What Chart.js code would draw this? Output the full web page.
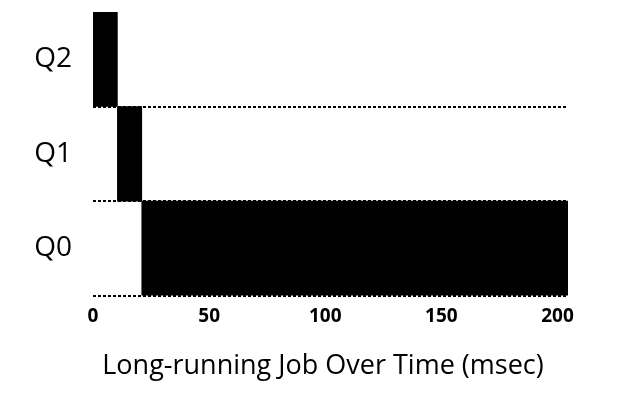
<!DOCTYPE html>
<html>
<head>
<meta charset="utf-8">
<script src="https://cdn.jsdelivr.net/npm/chart.js@4/dist/chart.umd.min.js"></script>
<style>
html,body{margin:0;padding:0;background:#fff;}
canvas{display:block;}
</style>
</head>
<body>
<canvas id="c" width="632" height="407"></canvas>
<script>
const categories = ['Q2', 'Q1', 'Q0'];
const startTimes = [0, 10.5, 21];
const endTimes = [10.5, 21, 204.5];
const xTickValues = [0, 50, 100, 150, 200];
const xAxisTitle = 'Long-running Job Over Time (msec)';

const FONT = "'Open Sans', 'DejaVu Sans', sans-serif";

new Chart(document.getElementById('c'), {
  type: 'bar',
  data: {
    labels: categories,
    datasets: [{
      data: categories.map((c, i) => [startTimes[i], endTimes[i]]),
      backgroundColor: '#000',
      borderWidth: 0,
      borderSkipped: false,
      barPercentage: 1,
      categoryPercentage: 1
    }]
  },
  options: {
    indexAxis: 'y',
    responsive: false,
    animation: false,
    devicePixelRatio: 1,
    layout: { padding: { top: 12, right: 0, left: 14, bottom: 0 } },
    plugins: {
      legend: { display: false },
      tooltip: { enabled: false },
      title: {
        display: true,
        position: 'bottom',
        text: xAxisTitle,
        color: '#000',
        font: { family: FONT, size: 27, weight: 'normal', lineHeight: 1.2 },
        padding: { top: 0, bottom: 24 }
      }
    },
    scales: {
      x: {
        type: 'linear',
        min: 0,
        max: 204.5,
        afterBuildTicks: s => { s.ticks = xTickValues.map(v => ({ value: v })); },
        afterFit: s => { s.height = 55; s.paddingLeft = 0; s.paddingRight = 64; },
        grid: { display: false },
        border: { display: false },
        ticks: { color: '#000', font: { family: FONT, size: 19, weight: 'bold' }, padding: 2, maxRotation: 0 }
      },
      y: {
        type: 'category',
        afterFit: s => { s.width = 79; s.paddingTop = 0; s.paddingBottom = 0; },
        grid: {
          offset: true,
          drawTicks: false,
          lineWidth: 2,
          color: ctx => ctx.index === 0 ? 'rgba(0,0,0,0)' : '#000'
        },
        border: { display: false, dash: [3, 2] },
        ticks: { color: '#000', font: { family: FONT, size: 28 }, padding: 21 }
      }
    }
  }
});
</script>
</body>
</html>
